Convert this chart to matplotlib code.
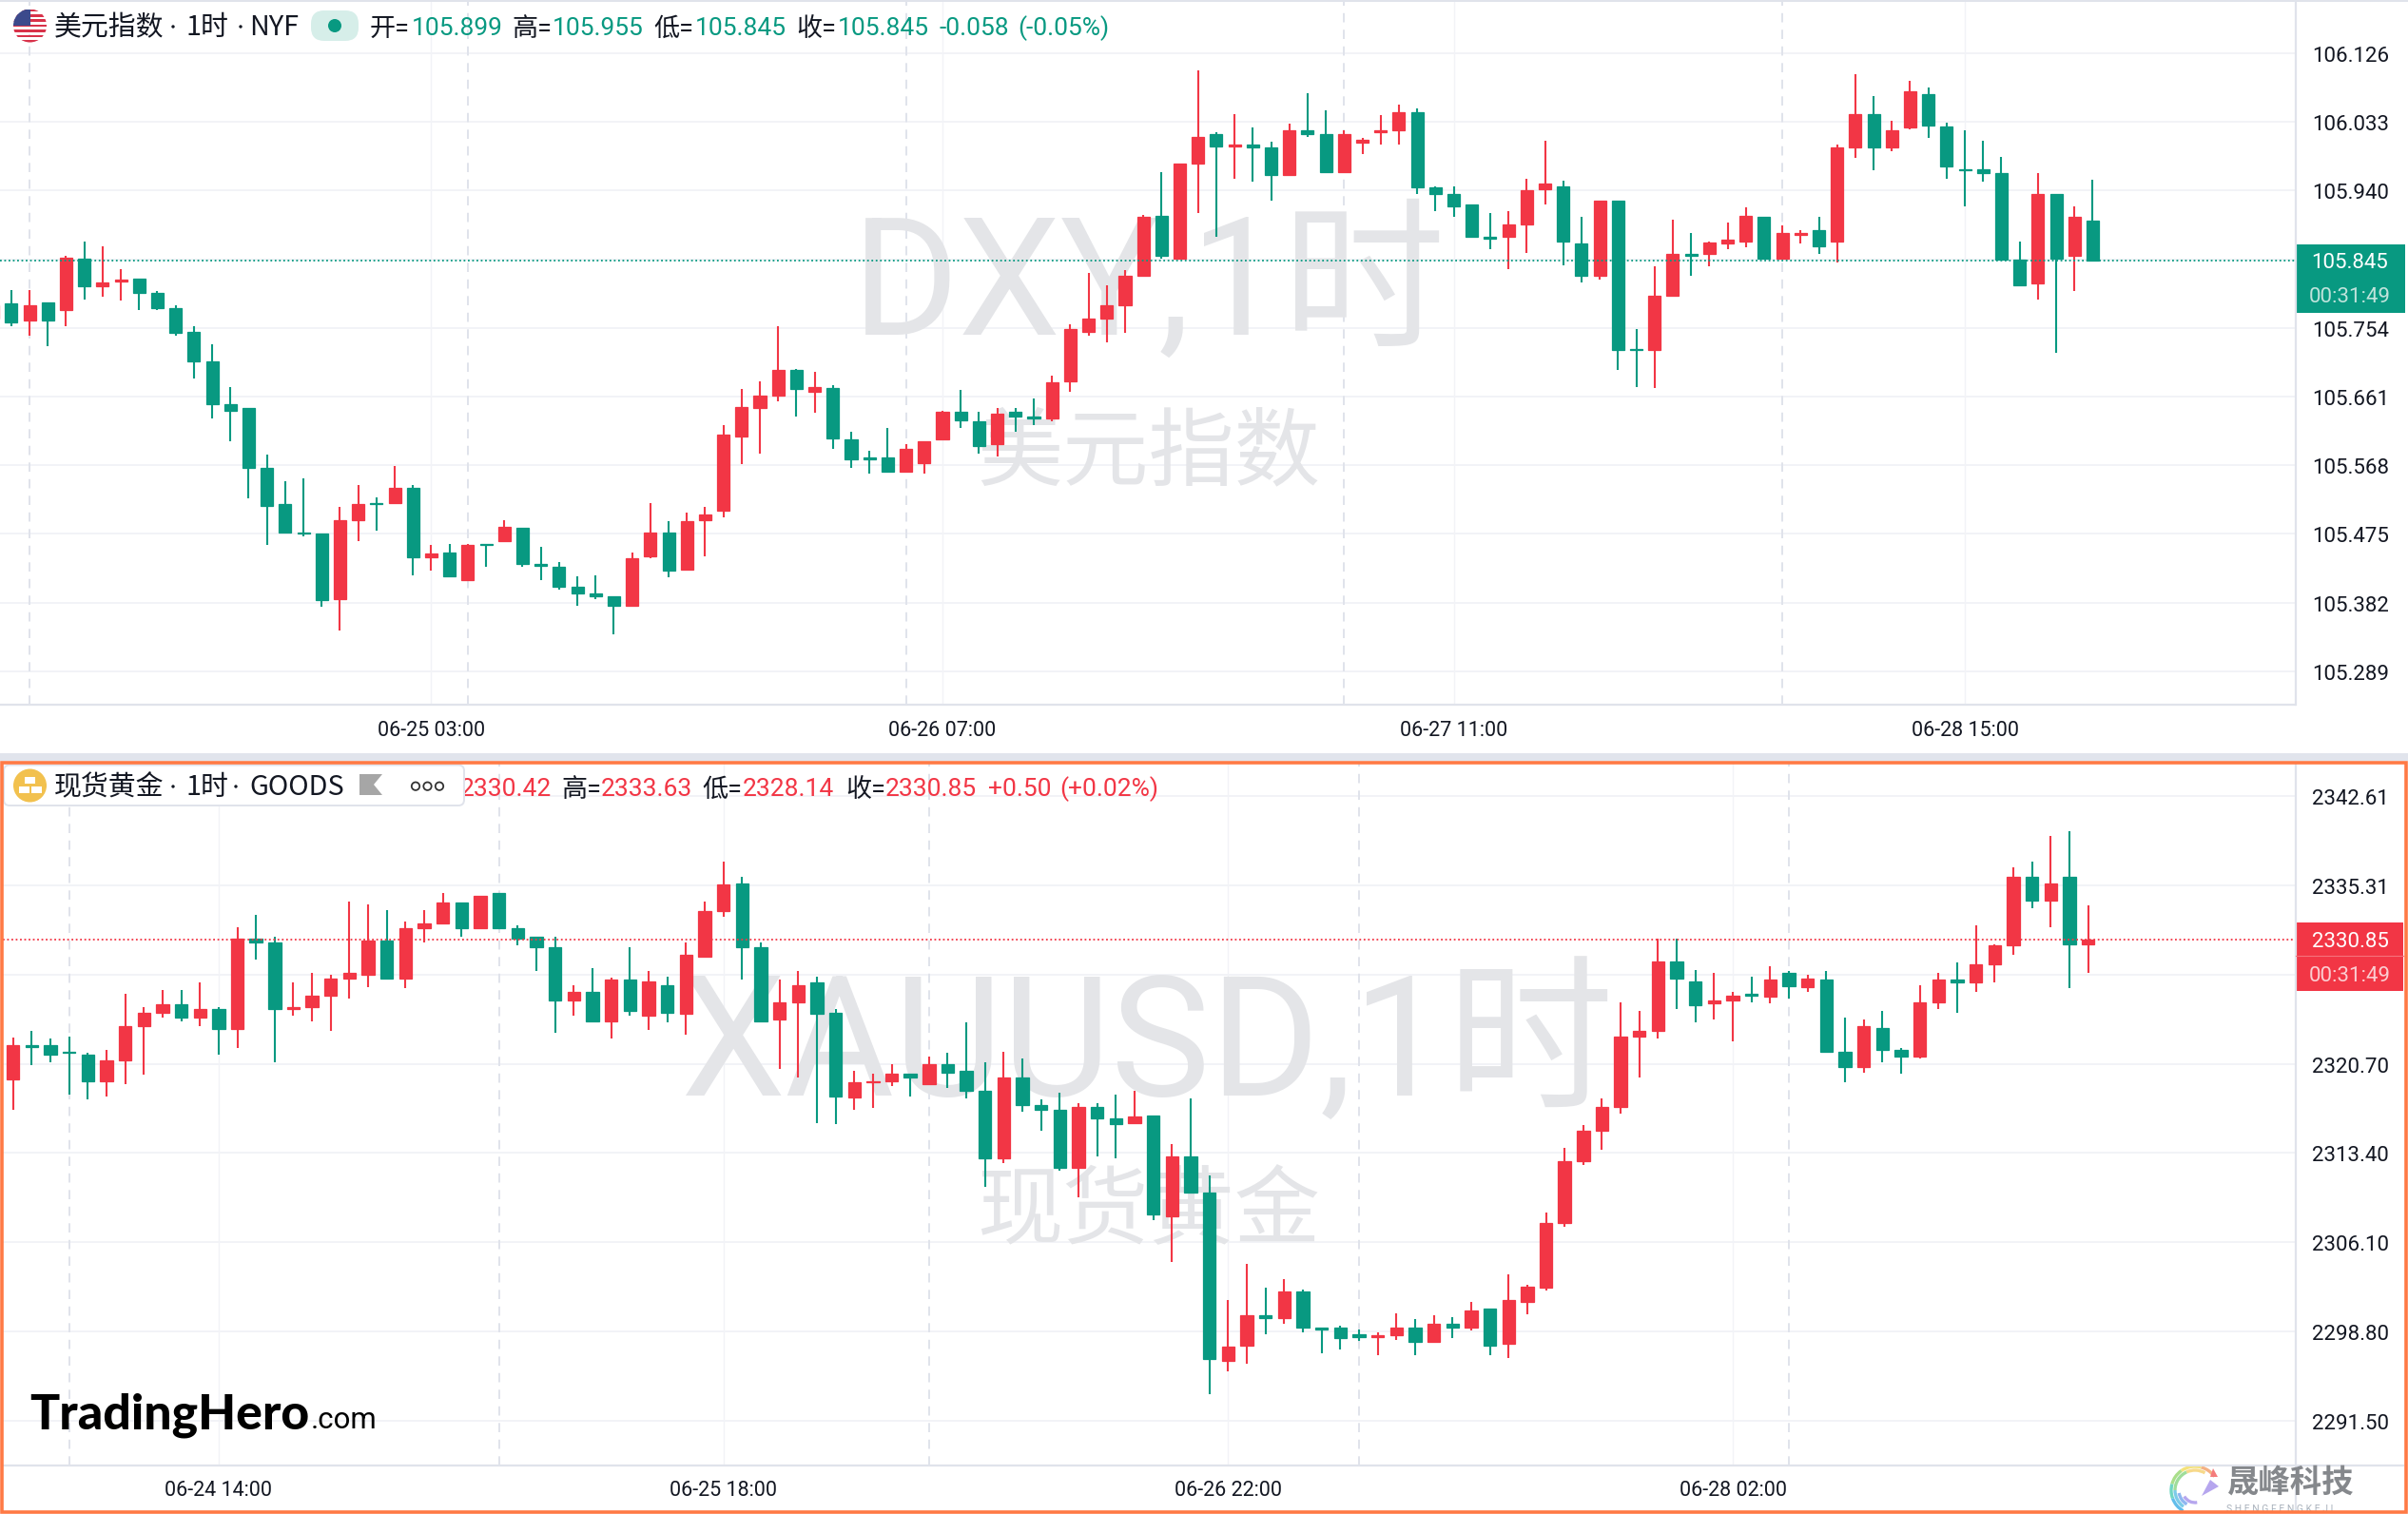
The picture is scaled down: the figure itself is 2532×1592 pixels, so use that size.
import numpy as np
import matplotlib
matplotlib.use("Agg")
import matplotlib.pyplot as plt
from matplotlib.patches import Arc, Circle, FancyBboxPatch, Polygon, Rectangle
from matplotlib.transforms import ScaledTranslation

W, H = 2532, 1592
GREEN = "#089981"
RED = "#F23645"
GRID = "#F2F3F7"
LINE = "#E0E3EB"
ORANGE = "#FF7A45"
INK = "#131722"
WATERMARK = "#E4E5E8"
CJK = ["Noto Sans CJK SC", "DejaVu Sans"]

plt.rcParams["font.family"] = ["Roboto", "Noto Sans CJK SC", "DejaVu Sans"]

# --- DXY 1h candles ---
dxy_open = [105.766, 105.787, 105.764, 105.789, 105.778, 105.848, 105.810, 105.817, 105.821, 105.801,
            105.781, 105.749, 105.709, 105.651, 105.645, 105.564, 105.515, 105.477, 105.476, 105.387,
            105.494, 105.517, 105.517, 105.538, 105.443, 105.450, 105.413, 105.462, 105.465, 105.483,
            105.434, 105.431, 105.404, 105.395, 105.390, 105.378, 105.445, 105.477, 105.427, 105.494,
            105.506, 105.607, 105.645, 105.662, 105.697,
            105.668, 105.673, 105.603, 105.578, 105.578, 105.559, 105.571, 105.603, 105.640, 105.628,
            105.596, 105.640, 105.634, 105.631, 105.682, 105.749, 105.766, 105.784, 105.824, 105.906,
            105.848, 105.976, 106.016, 106.000, 106.002, 105.998, 105.961, 106.022, 106.016, 105.965,
            106.005, 106.019, 106.021, 106.046, 105.944, 105.935, 105.921, 105.877, 105.877, 105.894,
            105.942, 105.946, 105.868, 105.824,
            105.926, 105.726, 105.724, 105.798, 105.854, 105.854, 105.868, 105.871, 105.905, 105.848,
            105.880, 105.886, 105.871, 105.999, 106.044, 105.998, 106.025, 106.071, 106.027, 105.969,
            105.969, 105.963, 105.847, 105.814, 105.935, 105.851, 105.899]
dxy_high = [105.794, 105.805, 105.805, 105.789, 105.852, 105.871, 105.865, 105.833, 105.821, 105.804,
            105.784, 105.756, 105.732, 105.674, 105.645, 105.582, 105.547, 105.550, 105.476, 105.512,
            105.541, 105.524, 105.567, 105.541, 105.460, 105.462, 105.462, 105.462, 105.494, 105.483,
            105.457, 105.437, 105.418, 105.419, 105.390, 105.450, 105.517, 105.492, 105.504, 105.512,
            105.622, 105.671, 105.682, 105.756, 105.698,
            105.694, 105.677, 105.613, 105.587, 105.619, 105.596, 105.601, 105.642, 105.670, 105.640,
            105.645, 105.645, 105.659, 105.689, 105.759, 105.828, 105.812, 105.832, 105.907, 105.965,
            105.976, 106.103, 106.019, 106.044, 106.025, 106.006, 106.031, 106.072, 106.048, 106.021,
            106.011, 106.042, 106.056, 106.051, 105.946, 105.946, 105.921, 105.909, 105.912, 105.956,
            106.007, 105.953, 105.905, 105.926,
            105.926, 105.752, 105.837, 105.900, 105.882, 105.871, 105.897, 105.917, 105.905, 105.893,
            105.886, 105.905, 106.002, 106.098, 106.068, 106.034, 106.088, 106.079, 106.032, 106.021,
            106.007, 105.986, 105.871, 105.963, 105.935, 105.918, 105.955]
dxy_low = [105.755, 105.756, 105.743, 105.729, 105.756, 105.793, 105.796, 105.791, 105.778, 105.778,
           105.743, 105.685, 105.631, 105.601, 105.523, 105.460, 105.477, 105.472, 105.376, 105.344,
           105.465, 105.480, 105.517, 105.419, 105.425, 105.418, 105.413, 105.430, 105.465, 105.431,
           105.413, 105.399, 105.378, 105.387, 105.339, 105.378, 105.442, 105.416, 105.425, 105.445,
           105.497, 105.569, 105.584, 105.654, 105.634,
           105.639, 105.590, 105.564, 105.557, 105.559, 105.559, 105.557, 105.603, 105.619, 105.584,
           105.580, 105.613, 105.622, 105.627, 105.667, 105.743, 105.735, 105.747, 105.824, 105.848,
           105.847, 105.909, 105.877, 105.956, 105.952, 105.926, 105.961, 106.013, 105.965, 105.963,
           105.990, 106.002, 106.002, 105.935, 105.912, 105.905, 105.877, 105.860, 105.833, 105.856,
           105.921, 105.839, 105.816, 105.819,
           105.697, 105.674, 105.673, 105.796, 105.825, 105.837, 105.860, 105.863, 105.848, 105.848,
           105.868, 105.854, 105.842, 105.984, 105.967, 105.993, 106.023, 106.011, 105.956, 105.918,
           105.952, 105.846, 105.812, 105.793, 105.720, 105.804, 105.845]
dxy_close = [105.784, 105.762, 105.784, 105.764, 105.849, 105.810, 105.816, 105.819, 105.801, 105.781,
             105.747, 105.709, 105.651, 105.642, 105.565, 105.513, 105.477, 105.476, 105.385, 105.494,
             105.515, 105.515, 105.538, 105.443, 105.448, 105.418, 105.460, 105.460, 105.485, 105.434,
             105.432, 105.404, 105.395, 105.390, 105.378, 105.442, 105.477, 105.425, 105.492, 105.501,
             105.610, 105.647, 105.662, 105.697, 105.671,
             105.674, 105.604, 105.576, 105.576, 105.559, 105.590, 105.601, 105.640, 105.629, 105.594,
             105.638, 105.634, 105.632, 105.680, 105.752, 105.766, 105.784, 105.824, 105.905, 105.851,
             105.976, 106.013, 106.000, 106.002, 105.998, 105.961, 106.021, 106.016, 105.965, 106.016,
             106.009, 106.021, 106.046, 105.944, 105.935, 105.918, 105.877, 105.875, 105.894, 105.941,
             105.949, 105.871, 105.824, 105.926,
             105.724, 105.724, 105.798, 105.854, 105.852, 105.870, 105.874, 105.906, 105.848, 105.882,
             105.883, 105.865, 105.999, 106.044, 105.998, 106.022, 106.074, 106.028, 105.973, 105.967,
             105.963, 105.847, 105.812, 105.935, 105.848, 105.905, 105.845]

# --- XAUUSD 1h candles ---
xau_open = [2319.45, 2322.19, 2322.19, 2321.68, 2321.40, 2319.30, 2321.00, 2323.74, 2324.85, 2325.56,
            2324.49, 2325.16, 2323.50, 2330.91, 2330.60, 2325.20, 2325.36, 2326.27, 2327.62, 2327.98,
            2330.79, 2327.62, 2331.79, 2332.18, 2333.85, 2331.79, 2334.68, 2331.75, 2331.07, 2330.20,
            2325.88, 2326.55, 2324.17, 2327.58, 2324.65, 2327.11, 2324.81, 2329.41, 2333.21, 2335.47,
            2330.20, 2324.33, 2325.72,
            2327.31, 2324.85, 2317.91, 2319.18, 2319.30, 2319.85, 2319.06, 2320.64, 2320.09, 2318.46,
            2312.99, 2319.57, 2317.31, 2316.92, 2312.20, 2317.16, 2316.20, 2315.81, 2316.44, 2308.19,
            2313.11, 2310.14, 2296.38, 2297.61, 2300.11, 2299.87, 2302.09, 2299.11, 2299.11, 2298.56,
            2298.36, 2298.48, 2299.11, 2297.92, 2299.43, 2299.15, 2300.66, 2297.77, 2301.26, 2302.41,
            2307.68, 2312.75, 2315.25,
            2317.19, 2322.94, 2323.42, 2329.05, 2327.42, 2325.60, 2325.88, 2326.39, 2326.20, 2328.14,
            2326.99, 2327.58, 2321.68, 2320.45, 2323.62, 2321.79, 2321.28, 2325.72, 2327.58, 2327.31,
            2328.85, 2330.40, 2335.95, 2334.01, 2335.95, 2330.42]
xau_high = [2322.86, 2323.38, 2322.75, 2322.94, 2321.56, 2321.79, 2326.39, 2325.32, 2326.71, 2326.71,
            2327.31, 2325.32, 2331.87, 2332.90, 2331.07, 2327.31, 2328.10, 2327.94, 2333.93, 2333.73,
            2333.29, 2332.30, 2333.29, 2334.64, 2333.85, 2334.40, 2334.68, 2331.98, 2331.07, 2331.07,
            2327.11, 2328.53, 2327.74, 2330.20, 2328.26, 2327.78, 2330.60, 2333.93, 2337.22, 2335.99,
            2330.60, 2327.58, 2328.26,
            2327.78, 2325.16, 2320.09, 2319.85, 2320.64, 2319.85, 2321.28, 2321.56, 2324.05, 2320.80,
            2321.68, 2321.12, 2317.79, 2318.30, 2317.47, 2317.47, 2318.19, 2318.46, 2316.44, 2314.10,
            2317.87, 2311.56, 2301.37, 2304.31, 2302.37, 2303.08, 2302.25, 2299.11, 2299.27, 2298.96,
            2298.72, 2300.30, 2299.83, 2300.15, 2299.99, 2301.22, 2300.66, 2303.48, 2302.60, 2308.51,
            2313.82, 2315.65, 2317.87,
            2325.68, 2325.01, 2330.91, 2330.91, 2328.34, 2328.10, 2326.55, 2327.78, 2328.69, 2328.26,
            2327.94, 2328.26, 2324.45, 2324.33, 2325.01, 2321.95, 2327.15, 2328.10, 2328.97, 2332.02,
            2330.48, 2336.74, 2337.26, 2339.32, 2339.72, 2333.63]
xau_low = [2316.92, 2320.60, 2320.84, 2318.19, 2317.79, 2317.99, 2319.06, 2319.77, 2324.45, 2324.17,
           2323.78, 2321.40, 2321.99, 2329.21, 2320.84, 2324.61, 2324.17, 2323.38, 2326.04, 2326.95,
           2327.62, 2326.87, 2330.64, 2332.18, 2331.07, 2331.79, 2331.79, 2330.40, 2328.30, 2323.26,
           2324.61, 2324.05, 2322.79, 2324.61, 2323.46, 2324.09, 2323.10, 2329.41, 2332.74, 2327.58,
           2324.17, 2320.29, 2319.61,
           2315.81, 2315.73, 2316.92, 2317.12, 2318.90, 2318.03, 2319.06, 2318.74, 2317.83, 2310.65,
           2312.60, 2316.80, 2315.25, 2311.92, 2309.78, 2313.15, 2312.99, 2315.73, 2307.88, 2304.51,
           2310.18, 2293.72, 2295.51, 2296.14, 2298.60, 2299.47, 2298.76, 2297.05, 2297.37, 2298.04,
           2296.89, 2298.08, 2296.89, 2297.92, 2298.24, 2298.92, 2296.89, 2296.66, 2300.18, 2302.13,
           2307.40, 2312.44, 2313.63,
           2316.64, 2319.61, 2322.79, 2325.20, 2324.09, 2324.33, 2322.55, 2325.68, 2325.60, 2326.00,
           2326.59, 2321.56, 2319.22, 2319.97, 2320.84, 2319.89, 2321.12, 2325.20, 2324.89, 2326.59,
           2327.31, 2329.57, 2333.45, 2331.87, 2326.91, 2328.14]
xau_close = [2322.19, 2322.07, 2321.40, 2321.56, 2319.30, 2320.96, 2323.74, 2324.85, 2325.56, 2324.45,
             2325.16, 2323.50, 2330.91, 2330.64, 2325.20, 2325.32, 2326.23, 2327.62, 2328.10, 2330.79,
             2327.62, 2331.75, 2332.14, 2333.85, 2331.79, 2334.40, 2331.79, 2330.95, 2330.24, 2325.88,
             2326.55, 2324.17, 2327.58, 2325.05, 2327.42, 2324.89, 2329.64, 2333.17, 2335.35, 2330.24,
             2324.17, 2325.68, 2327.11,
             2324.81, 2318.03, 2319.18, 2319.30, 2319.85, 2319.61, 2320.64, 2319.97, 2318.50, 2312.99,
             2319.57, 2317.35, 2316.96, 2312.16, 2317.16, 2316.24, 2315.73, 2316.36, 2308.39, 2313.11,
             2310.18, 2296.54, 2297.57, 2300.15, 2299.87, 2302.09, 2299.15, 2298.96, 2298.24, 2298.36,
             2298.48, 2299.11, 2297.92, 2299.43, 2299.15, 2300.50, 2297.61, 2301.37, 2302.44, 2307.68,
             2312.71, 2315.21, 2317.16,
             2322.90, 2323.38, 2329.05, 2327.66, 2325.52, 2325.84, 2326.23, 2326.23, 2327.58, 2327.03,
             2327.62, 2321.71, 2320.45, 2323.74, 2321.83, 2321.32, 2325.68, 2327.58, 2327.35, 2328.81,
             2330.40, 2335.95, 2334.01, 2335.47, 2330.48, 2330.85]

# --- Scales and labels ---
dxy_yticks = [106.126, 106.033, 105.940, 105.847, 105.754, 105.661, 105.568, 105.475, 105.382, 105.289]
dxy_ylabels = ["106.126", "106.033", "105.940", "", "105.754", "105.661", "105.568", "105.475", "105.382", "105.289"]
xau_yticks = [2342.61, 2335.31, 2328.00, 2320.70, 2313.40, 2306.10, 2298.80, 2291.50]
xau_ylabels = ["2342.61", "2335.31", "", "2320.70", "2313.40", "2306.10", "2298.80", "2291.50"]
dxy_xticks = [23, 51, 79, 107]
dxy_xlabels = ["06-25 03:00", "06-26 07:00", "06-27 11:00", "06-28 15:00"]
xau_xticks = [11, 38, 65, 92]
xau_xlabels = ["06-24 14:00", "06-25 18:00", "06-26 22:00", "06-28 02:00"]
dxy_sessions = [1, 25, 49, 73, 97]
xau_sessions = [3, 26, 49, 72, 95]
dxy_last = 105.845
xau_last = 2330.85


def fx(px):
    return px / W


def fy(py):
    return 1 - py / H


def make_pane(top, bottom, left, ylim, xlim, yticks, ylabels, xticks, xlabels, sessions):
    ax = fig.add_axes([fx(left), fy(bottom), fx(2413 - left), (bottom - top) / H])
    ax.set_xlim(*xlim)
    ax.set_ylim(*ylim)
    ax.set_facecolor("white")
    for s in ax.spines.values():
        s.set_visible(False)
    ax.yaxis.tick_right()
    ax.set_yticks(yticks, ylabels)
    ax.set_xticks(xticks, xlabels)
    ax.tick_params(axis="y", length=0, pad=13, labelsize=16, labelcolor=INK)
    ax.tick_params(axis="x", length=0, pad=12, labelsize=15.5, labelcolor=INK)
    ax.grid(True, axis="y", color=GRID, linewidth=1.4)
    ax.grid(True, axis="x", color=GRID, linewidth=1.0)
    ax.set_axisbelow(True)
    shift = ScaledTranslation(0, -1.0 / 100, fig.dpi_scale_trans)
    for t in ax.get_yticklabels():
        t.set_transform(t.get_transform() + shift)
    for s in sessions:
        ax.axvline(s, color=LINE, linewidth=1.4, linestyle=(0, (5, 4)), zorder=1)
    return ax


def draw_candles(ax, xs, o, h, l, c):
    o, h, l, c = map(np.asarray, (o, h, l, c))
    colors = np.where(c >= o, RED, GREEN)
    ax.vlines(xs, l, h, colors=colors, linewidth=1.5, zorder=3)
    ax.bar(xs, np.abs(c - o), bottom=np.minimum(o, c), width=0.68, color=colors,
           edgecolor=colors, linewidth=0.9, zorder=4)


fig = plt.figure(figsize=(W / 100, H / 100), dpi=100, facecolor="white")

# --- Pane superior: DXY ---
ax1 = make_pane(0, 741, 0, (105.2438, 106.198), (-0.62, 125.07),
                dxy_yticks, dxy_ylabels, dxy_xticks, dxy_xlabels, dxy_sessions)
ax1.text(fx(1208), fy(303), "DXY,1时", transform=fig.transFigure, fontsize=123.5, color=WATERMARK,
         ha="center", va="center", zorder=2)
ax1.text(fx(1208), fy(478), "美元指数", transform=fig.transFigure, fontsize=65, color=WATERMARK,
         ha="center", va="center", zorder=2)
draw_candles(ax1, np.arange(len(dxy_open)) - 1, dxy_open, dxy_high, dxy_low, dxy_close)
ax1.axhline(dxy_last, color=GREEN, linewidth=1.3, linestyle=(0, (1, 1.5)), zorder=5)

# --- Pane inferior: ouro ---
ax2 = make_pane(803, 1540.5, 3, (2287.89, 2345.23), (-0.54, 122.06),
                xau_yticks, xau_ylabels, xau_xticks, xau_xlabels, xau_sessions)
ax2.text(fx(1205.5), fy(1102), "XAUUSD,1时", transform=fig.transFigure, fontsize=126.5, color=WATERMARK,
         ha="center", va="center", zorder=2)
ax2.text(fx(1208), fy(1276), "现货黄金", transform=fig.transFigure, fontsize=65, color=WATERMARK,
         ha="center", va="center", zorder=2)
draw_candles(ax2, np.arange(len(xau_open)), xau_open, xau_high, xau_low, xau_close)
ax2.axhline(xau_last, color=RED, linewidth=1.3, linestyle=(0, (1, 1.5)), zorder=5)

# --- Overlay em pixels: cabecalhos, etiquetas, logos ---
deco = fig.add_axes([0, 0, 1, 1], zorder=10)
deco.set_xlim(0, W)
deco.set_ylim(H, 0)
deco.axis("off")
deco.patch.set_alpha(0)

deco.add_patch(Rectangle((0, 792), W, 8, color="#E1E4EC", lw=0))
deco.plot([0, 2413], [741, 741], color=LINE, lw=1.6)
deco.plot([2413.5, 2413.5], [0, 741], color=LINE, lw=1.6)
deco.plot([3, 2527], [1540.5, 1540.5], color=LINE, lw=1.6)
deco.plot([2413.5, 2413.5], [803, 1589], color=LINE, lw=1.6)
deco.plot([0, W], [1, 1], color=LINE, lw=1.4)


def label(x, y, s, color=INK, size=19, **kw):
    deco.text(x, y, s, color=color, fontsize=size, va="center", **kw)


def title(y, parts):
    for x, s in parts:
        deco.text(x, y, s, color=INK, fontsize=20.8, va="center", family=CJK, zorder=6)


# cabecalho DXY
flag = Circle((31.5, 27), 17.5, transform=deco.transData)
for i in range(13):
    stripe = Rectangle((14, 9.5 + i * 2.7), 35, 2.7, color="#D8324A" if i % 2 == 0 else "white", lw=0)
    deco.add_patch(stripe)
    stripe.set_clip_path(flag)
canton = Rectangle((14, 9.5), 18, 17, color="#3C4A8C", lw=0)
deco.add_patch(canton)
canton.set_clip_path(flag)
title(29, [(57, "美元指数"), (196, "1时"), (262, "NYF")])
for x in (182, 253):
    deco.add_patch(Circle((x, 28), 1.7, color=INK, lw=0))
deco.add_patch(FancyBboxPatch((327, 11), 50, 32, boxstyle="round,pad=0,rounding_size=14", color="#D6EEE9", lw=0))
deco.add_patch(Circle((352, 27), 7, color=GREEN, lw=0))
for x, s in [(389, "开="), (538, "高="), (687, "低="), (837.5, "收=")]:
    label(x, 30, s, size=19.5)
for x, s in [(433, "105.899"), (581, "105.955"), (731, "105.845"), (881, "105.845"),
             (987, "-0.058"), (1070.5, "(-0.05%)")]:
    label(x, 30, s, color=GREEN)

# cabecalho ouro
for x, s in [(590, "高="), (738, "低="), (889, "收=")]:
    label(x, 830, s, size=19.5)
for x, s in [(484, "2330.42"), (632, "2333.63"), (781, "2328.14"), (931, "2330.85"),
             (1038.5, "+0.50"), (1114.5, "(+0.02%)")]:
    label(x, 830, s, color=RED)
deco.add_patch(FancyBboxPatch((4, 804.5), 484, 42.5, boxstyle="round,pad=0,rounding_size=6",
                              facecolor="white", edgecolor=LINE, lw=1.4, zorder=4))
deco.add_patch(Circle((31.5, 826), 17.5, color="#F2C14E", lw=0, zorder=5))
for x, y in [(31.5, 820), (25, 830.5), (38, 830.5)]:
    deco.add_patch(Rectangle((x - 5.5, y - 3.5), 11, 7, color="white", lw=0, zorder=6))
title(828, [(57, "现货黄金"), (196, "1时"), (262, "GOODS")])
for x in (182, 248):
    deco.add_patch(Circle((x, 827), 1.7, color=INK, lw=0, zorder=6))
deco.add_patch(Polygon([(378, 814), (402, 814), (393, 825), (402, 836), (378, 836)], color="#A6A6A6", lw=0, zorder=6))
for x in (437, 449.5, 462):
    deco.add_patch(Circle((x, 826.7), 4.2, fill=False, edgecolor="#333333", lw=1.3, zorder=6))

# borda laranja por cima de tudo
deco.add_patch(Rectangle((1.5, 801.5), W - 4, 788.5, fill=False, edgecolor=ORANGE, lw=2.6, zorder=7))

# etiquetas de preco
deco.add_patch(Rectangle((2413.5, 257), 115.5, 72, color=GREEN, lw=0))
deco.text(2471, 277, "105.845", color="white", fontsize=16, ha="center", va="center")
deco.text(2471, 312.5, "00:31:49", color="#BFE3DB", fontsize=16, ha="center", va="center")
deco.add_patch(Rectangle((2413.5, 969.5), 113.5, 72, color=RED, lw=0))
deco.plot([2414, 2527], [1005, 1005], color="#F6717C", lw=0.8)
deco.text(2471, 991, "2330.85", color="white", fontsize=16, ha="center", va="center")
deco.text(2471, 1026, "00:31:49", color="#FBCDD1", fontsize=16, ha="center", va="center")

# logos
deco.text(31, 1502, "TradingHero", color="black", fontsize=37.3, family=["Lato", "DejaVu Sans"],
          fontweight=900, va="baseline")
deco.text(327, 1502, ".com", color="black", fontsize=22.5, va="baseline")
for r, c, t1, t2 in [(25, "#F4B183", 285, 325), (25, "#F5E27A", 235, 285), (25, "#A9DE8A", 195, 235),
                     (25, "#6FD6C2", 160, 195), (25, "#62BDEB", 120, 160),
                     (21, "#F7D98B", 245, 300), (21, "#9FDD9A", 180, 245), (21, "#7CCBE8", 125, 180),
                     (17, "#8FB6F0", 120, 170), (13, "#B6A6EE", 80, 150)]:
    deco.add_patch(Arc((2308, 1567), 2 * r, 2 * r, theta1=t1, theta2=t2, color=c, lw=2.4))
deco.add_patch(Polygon([(2324, 1556), (2333, 1563), (2315, 1573)], color="#B6A6EE", lw=0))
deco.add_patch(Polygon([(2327, 1544), (2332, 1553), (2324, 1553)], color="#F47C7C", lw=0))
deco.text(2342, 1560, "晟峰科技", color="#85888C", fontsize=24, fontweight="bold", va="center")
deco.text(2341, 1587, "S H E N G F E N G K E J I", color="#AAB2BC", fontsize=7.5, va="center")

fig.savefig("out.png", dpi=100)
